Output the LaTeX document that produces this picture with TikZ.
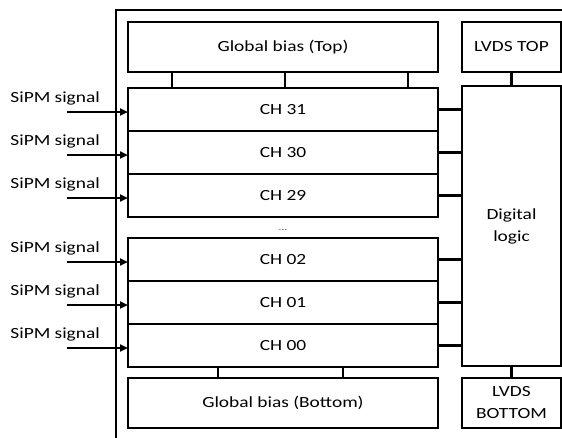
\documentclass[tikz,border=0pt]{standalone}
\usepackage{fontspec}
\setmainfont{Carlito}[FakeStretch=1.25]
\usepackage{tikz}
\usetikzlibrary{arrows.meta,positioning,calc}
\tikzset{
  blk/.style={rectangle, draw=black, line width=2.2pt, fill=white, align=center, outer sep=0pt,
              inner sep=0pt, font=\fontsize{15.5}{22}\selectfont},
  chan/.style={blk, minimum width=310pt, minimum height=43pt},
  wire/.style={line width=2.2pt, draw=black},
  sig/.style={-{Triangle[length=8pt,width=7pt]}, line width=2.2pt, draw=black},
  lbl/.style={font=\fontsize{15.5}{18}\selectfont, inner sep=0pt},
}

\begin{document}
\begin{tikzpicture}[x=1pt, y=1pt]
    \useasboundingbox (0,0) rectangle (562,-437);
    \draw[wire] (116,-445) -- (116,-10) -- (570,-10);
    \node[blk, minimum width=310pt, minimum height=50pt] (gtop) at (283,-47) {Global bias (Top)};
    \node[blk, minimum width=99pt, minimum height=50pt] (ltop) at (511.5,-47) {LVDS TOP};
    \node[chan, below=16pt of gtop] (c31) {CH 31};
    \node[chan, below=0pt of c31] (c30) {CH 30};
    \node[chan, below=0pt of c30] (c29) {CH 29};
    \node[chan, below=21pt of c29] (c02) {CH 02};
    \node[chan, below=0pt of c02] (c01) {CH 01};
    \node[chan, below=0pt of c01] (c00) {CH 00};
    \node[blk, minimum width=310pt, minimum height=50pt, below=11pt of c00] (gbot) {Global bias (Bottom)};
    \node[blk, minimum width=99pt, minimum height=280pt] (dl) at (511.5,-226) {Digital\\logic};
    \node[blk, minimum width=99pt, minimum height=50pt, below=12pt of dl] (lbot) {LVDS\\BOTTOM};
    \node[font=\fontsize{9}{9}\selectfont, text=gray!70!black, yshift=-3pt] (dots)
      at ($(c29.south)!0.5!(c02.north)$) {...};
    % bias lines
    \foreach \dx in {44,157,280}
      \draw[wire] ([xshift=\dx pt]gtop.south west) -- ([xshift=\dx pt]c31.north west);
    \foreach \dx in {90,215}
      \draw[wire] ([xshift=\dx pt]c00.south west) -- ([xshift=\dx pt]gbot.north west);
    \draw[wire] (ltop.south) -- (dl.north);
    \draw[wire] (dl.south) -- (lbot.north);
    % channel inputs and outputs
    \foreach \c in {31,30,29,02,01,00} {
      \coordinate (s\c) at ([xshift=-61pt,yshift=-2.5pt]c\c.west);
      \draw[sig] (s\c) -- (s\c -| c\c.west);
      \node[lbl, anchor=base east] (t\c) at ([xshift=33pt,yshift=9.5pt]s\c) {SiPM signal};
      \draw[wire] (c\c.east) -- (c\c.east -| dl.west);
    }
\end{tikzpicture}
\end{document}
